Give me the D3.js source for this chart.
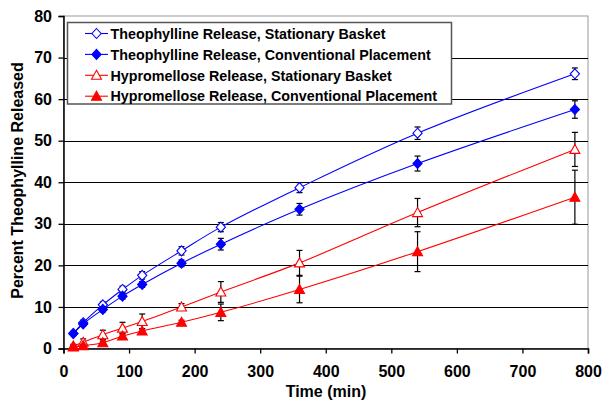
<!DOCTYPE html>
<html><head><meta charset="utf-8">
<script src="https://cdn.jsdelivr.net/npm/d3@7"></script>
<style>body{margin:0;background:#fff}svg{display:block;font-family:"Liberation Sans",Arial,sans-serif}</style>
</head><body>
<svg id="c" width="603" height="402"></svg>
<script>
const times = [15, 30, 60, 90, 120, 180, 240, 360, 540, 780];
const theoStationary = [3.6, 6.2, 10.5, 14.2, 17.6, 23.5, 29.2, 38.7, 51.8, 66.1];
const theoStationaryErr = [0.5, 0.6, 0.7, 0.8, 0.9, 1.0, 1.1, 1.2, 1.5, 1.4];
const theoConventional = [3.6, 5.9, 9.4, 12.6, 15.4, 20.5, 25.1, 33.5, 44.5, 57.5];
const theoConventionalErr = [0.4, 0.5, 0.6, 0.7, 0.7, 0.8, 1.4, 1.4, 1.8, 2.1];
const hypStationary = [0.6, 1.5, 3.3, 4.9, 6.5, 10.0, 13.6, 20.6, 32.7, 47.9];
const hypStationaryErr = [0.4, 0.8, 1.1, 1.4, 1.8, 0.8, 2.5, 3.0, 3.4, 4.1];
const hypConventional = [0.4, 0.7, 1.4, 3.0, 4.2, 6.3, 8.7, 14.2, 23.3, 36.4];
const hypConventionalErr = [0.2, 0.3, 0.4, 0.6, 0.6, 0.5, 2.0, 3.2, 4.8, 6.5];
const seriesNames = ["Theophylline Release, Stationary Basket","Theophylline Release, Conventional Placement","Hypromellose Release, Stationary Basket","Hypromellose Release, Conventional Placement"];
const xTicks = [0,100,200,300,400,500,600,700,800];
const yTicks = [0,10,20,30,40,50,60,70,80];

const series = [
  {name: seriesNames[0], v: theoStationary, e: theoStationaryErr, color: "#0000FF", shape: "diamond", filled: false},
  {name: seriesNames[1], v: theoConventional, e: theoConventionalErr, color: "#0000FF", shape: "diamond", filled: true},
  {name: seriesNames[2], v: hypStationary, e: hypStationaryErr, color: "#FF0000", shape: "triangle", filled: false},
  {name: seriesNames[3], v: hypConventional, e: hypConventionalErr, color: "#FF0000", shape: "triangle", filled: true}
];

const svg = d3.select("#c");
const L = 63.5, R = 588, T = 16, B = 348.5;
const x = d3.scaleLinear().domain([0,800]).range([L,R]);
const y = d3.scaleLinear().domain([0,80]).range([B,T]);

svg.append("rect").attr("x",L).attr("y",T).attr("width",R-L).attr("height",B-T)
  .attr("fill","#fff").attr("stroke","#999").attr("stroke-width",1);
svg.append("g").selectAll("line").data(yTicks.filter(d=>d>0&&d<80)).join("line")
  .attr("x1",L).attr("x2",R).attr("y1",d=>Math.round(y(d))+0.5).attr("y2",d=>Math.round(y(d))+0.5)
  .attr("stroke","#000").attr("stroke-width",1);

const xa = svg.append("g").attr("transform",`translate(0,${B})`)
  .call(d3.axisBottom(x).tickValues(xTicks).tickSize(5).tickPadding(12).tickFormat(d3.format("d")));
const ya = svg.append("g").attr("transform",`translate(${L},0)`)
  .call(d3.axisLeft(y).tickValues(yTicks).tickSize(5).tickPadding(6.5).tickFormat(d3.format("d")));
[xa,ya].forEach(a=>{
  a.select(".domain").attr("stroke","#000").attr("stroke-width",1.5);
  a.selectAll(".tick line").attr("stroke","#000").attr("stroke-width",1.3);
  a.selectAll("text").attr("font-size",16).attr("font-weight","bold").attr("fill","#000")
    .attr("font-family","'Liberation Sans',Arial,sans-serif");
});

svg.append("text").attr("x",326).attr("y",397).attr("text-anchor","middle")
  .attr("font-size",16).attr("font-weight","bold").text("Time (min)");
svg.append("text").attr("transform","translate(23,180.5) rotate(-90)").attr("text-anchor","middle")
  .attr("font-size",16).attr("font-weight","bold").text("Percent Theophylline Released");

const line = d3.line().x((d,i)=>x(times[i])).y(d=>y(d)).curve(d3.curveCatmullRom.alpha(0.5));
const diamondPath = "M0,-5L4.6,0L0,5L-4.6,0Z";
const trianglePath = "M0,-5L5,4L-5,4Z";
const sym = s => s.shape==="diamond" ? diamondPath : trianglePath;

series.forEach(s=>{
  const g = svg.append("g");
  g.append("path").attr("d",line(s.v)).attr("fill","none").attr("stroke",s.color).attr("stroke-width",1.1);
  const eb = g.append("g").attr("stroke","#000").attr("stroke-width",1.2);
  s.v.forEach((v,i)=>{
    const cx = x(times[i]);
    const y1 = y(v + s.e[i]), y2 = y(v - s.e[i]);
    eb.append("line").attr("x1",cx).attr("x2",cx).attr("y1",y1).attr("y2",y2);
    eb.append("line").attr("x1",cx-3).attr("x2",cx+3).attr("y1",y1).attr("y2",y1);
    eb.append("line").attr("x1",cx-3).attr("x2",cx+3).attr("y1",y2).attr("y2",y2);
  });
  g.selectAll(".m").data(s.v).join("path")
    .attr("transform",(d,i)=>`translate(${x(times[i])},${y(d)})`)
    .attr("d",sym(s))
    .attr("fill",s.filled ? s.color : "#fff").attr("stroke",s.color).attr("stroke-width",1.1);
});

const lg = svg.append("g");
lg.append("rect").attr("x",67.5).attr("y",22.5).attr("width",384).attr("height",81.5)
  .attr("fill","#fff").attr("stroke","#555").attr("stroke-width",1.5);
series.forEach((s,i)=>{
  const cy = 33.5 + i*20.9;
  lg.append("line").attr("x1",85).attr("x2",108).attr("y1",cy).attr("y2",cy).attr("stroke",s.color).attr("stroke-width",1.1);
  lg.append("path").attr("transform",`translate(96.5,${cy})`).attr("d",sym(s))
    .attr("fill",s.filled ? s.color : "#fff").attr("stroke",s.color).attr("stroke-width",1.1);
  lg.append("text").attr("x",110.5).attr("y",cy+5.2).attr("font-size",14.3).attr("font-weight","bold").attr("fill","#000").text(s.name);
});
</script>
</body></html>
